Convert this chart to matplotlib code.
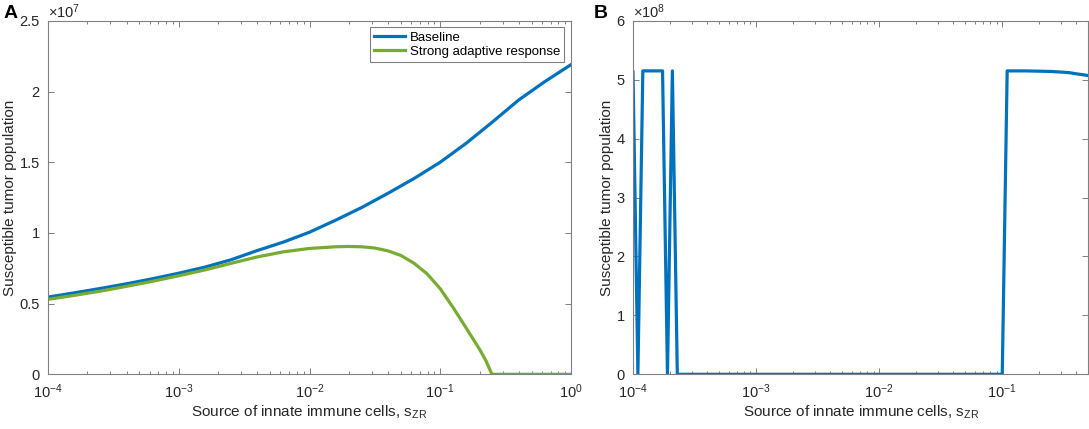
import numpy as np
import matplotlib
matplotlib.use("Agg")
import matplotlib.pyplot as plt
from matplotlib.ticker import FuncFormatter, LogLocator, FixedLocator, NullFormatter

plt.rcParams['font.family'] = ['Liberation Sans', 'DejaVu Sans']
plt.rcParams['mathtext.fontset'] = 'custom'
plt.rcParams['mathtext.rm'] = 'Liberation Sans'
plt.rcParams['mathtext.it'] = 'Liberation Sans:italic'
plt.rcParams['mathtext.default'] = 'regular'

# ---- Panel A data (log10 of s_ZR, population in units of 1e7) ----
logx_A = [-4.0, -3.8, -3.6, -3.4, -3.2, -3.0, -2.8, -2.6, -2.4, -2.2, -2.0,
          -1.8, -1.6, -1.4, -1.2, -1.0, -0.8, -0.6, -0.4, -0.3, -0.2, -0.1, 0.0]
baseline_A = [0.546, 0.576, 0.607, 0.640, 0.676, 0.715, 0.758, 0.810, 0.875,
              0.935, 1.005, 1.090, 1.180, 1.280, 1.385, 1.500, 1.635, 1.785,
              1.940, 2.005, 2.070, 2.130, 2.190]
logx_S = [-4.0, -3.8, -3.6, -3.4, -3.2, -3.0, -2.8, -2.6, -2.4, -2.2, -2.0,
          -1.8, -1.7, -1.6, -1.5, -1.4, -1.3, -1.2, -1.1, -1.0, -0.9, -0.8,
          -0.7, -0.65, -0.605, -0.3, 0.0]
strong_A = [0.530, 0.558, 0.588, 0.622, 0.658, 0.697, 0.738, 0.785, 0.830,
            0.866, 0.890, 0.902, 0.904, 0.902, 0.893, 0.873, 0.840, 0.785,
            0.710, 0.605, 0.470, 0.325, 0.178, 0.095, 0.0, 0.0, 0.0]

# ---- Panel B data (population in units of 1e8) ----
x_B = [1e-4, 1.096e-4, 1.202e-4, 1.318e-4, 1.445e-4, 1.585e-4, 1.738e-4,
       1.905e-4, 2.089e-4, 2.291e-4, 2.512e-4, 1e-3, 1e-2, 0.1, 0.1096,
       0.15, 0.2, 0.25, 0.3, 0.35, 0.4, 0.45, 0.5]
y_B = [5.13, 0, 5.15, 5.15, 5.15, 5.15, 5.15, 0, 5.15, 0, 0, 0, 0, 0,
       5.15, 5.15, 5.145, 5.14, 5.13, 5.12, 5.10, 5.085, 5.07]

blue = '#0072BD'
green = '#77AC30'
axcol = '#808080'
txtcol = '#262626'

fig = plt.figure(figsize=(10.89, 4.29), dpi=100)
axA = fig.add_axes([48/1089, 1-374.3/429, (571-48)/1089, (374.3-20.8)/429])
axB = fig.add_axes([633/1089, 1-374.3/429, (1088.3-633)/1089, (374.3-20.8)/429])

xA_b = [10**v for v in logx_A]
xA_s = [10**v for v in logx_S]
axA.plot(xA_b, np.array(baseline_A)*1e7, color=blue, lw=2.3, label='Baseline')
axA.plot(xA_s, np.array(strong_A)*1e7, color=green, lw=2.3, label='Strong adaptive response')
axB.plot(x_B, np.array(y_B)*1e8, color=blue, lw=2.3)

def style(ax, ymax, ystep, scale, exp):
    ax.set_xscale('log')
    ax.set_ylim(0, ymax)
    ax.yaxis.set_major_locator(FixedLocator(np.arange(0, ymax*1.0001, ystep)))
    ax.yaxis.set_major_formatter(FuncFormatter(lambda v, p: '%g' % round(v/scale, 3)))
    ax.xaxis.set_minor_locator(LogLocator(base=10, subs=np.arange(2, 10), numticks=20))
    ax.xaxis.set_minor_formatter(NullFormatter())
    for s in ax.spines.values():
        s.set_color(axcol)
        s.set_linewidth(0.8)
    ax.tick_params(which='both', direction='in', top=True, right=True,
                   color=axcol, labelcolor=txtcol, labelsize=10.5, width=0.7)
    ax.tick_params(which='major', length=4.5)
    ax.tick_params(axis='x', which='major', pad=6)
    ax.tick_params(axis='y', which='major', pad=6)
    ax.tick_params(which='minor', length=2.5)
    ax.set_xlabel('Source of innate immune cells, s$_{ZR}$', fontsize=11,
                  color=txtcol, labelpad=2)
    ax.set_ylabel('Susceptible tumor population', fontsize=11, color=txtcol,
                  labelpad=2)
    ax.text(0.0, 1.0, r'$\times10^{%d}$' % exp, transform=ax.transAxes,
            ha='left', va='bottom', fontsize=10.5, color=txtcol)

style(axA, 2.5e7, 0.5e7, 1e7, 7)
axA.set_xlim(1e-4, 1)
style(axB, 6e8, 1e8, 1e8, 8)
axB.set_xlim(1e-4, 0.5)

leg = axA.legend(loc='upper right', fontsize=9.5, frameon=True, fancybox=False,
                 edgecolor=axcol, framealpha=1, handlelength=2.4,
                 borderaxespad=0.5, borderpad=0.3, labelspacing=0.15,
                 handletextpad=0.35)
leg.get_frame().set_linewidth(0.8)

fig.text(4/1089, 1-13/429, 'A', fontsize=14, fontweight='bold', va='center', ha='left')
fig.text(594/1089, 1-13/429, 'B', fontsize=14, fontweight='bold', va='center', ha='left')

fig.savefig('out.png', dpi=100)
